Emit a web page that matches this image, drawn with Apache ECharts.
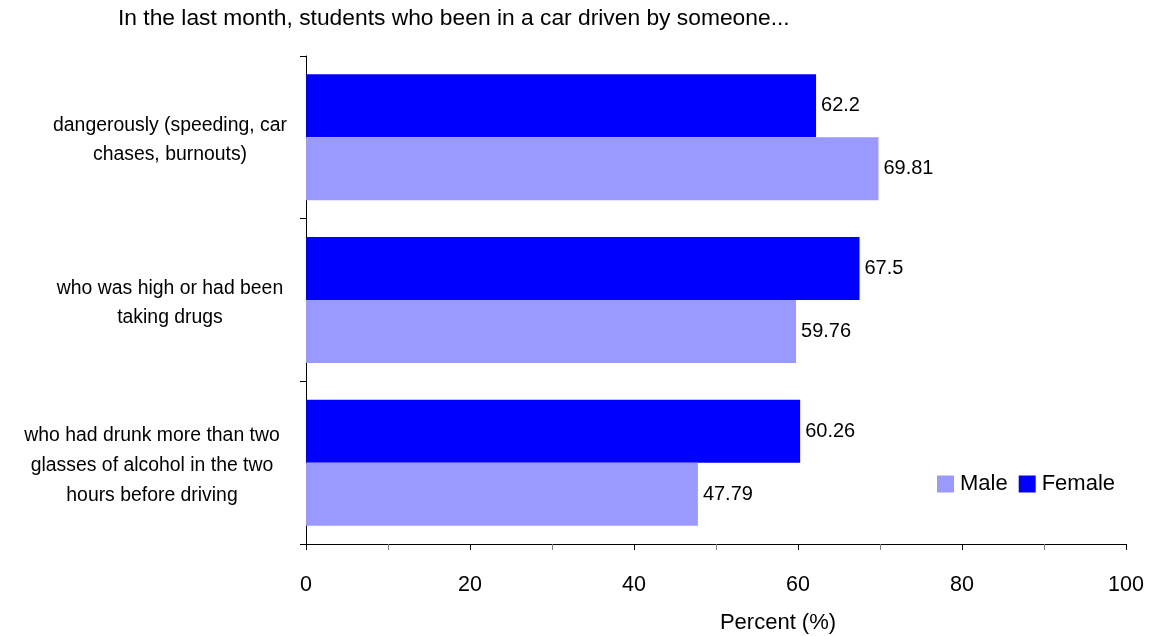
<!DOCTYPE html>
<html>
<head>
<meta charset="utf-8">
<script src="https://cdn.jsdelivr.net/npm/echarts@6/dist/echarts.min.js"></script>
<style>
html,body{margin:0;padding:0;background:#fff;}
#chart{width:1156px;height:636px;}
</style>
</head>
<body>
<div id="chart"></div>
<script>
var titleText = 'In the last month, students who been in a car driven by someone...';
var categories = [
  'dangerously (speeding, car\nchases, burnouts)',
  'who was high or had been\ntaking drugs',
  'who had drunk more than two\nglasses of alcohol in the two\nhours before driving'
];
var femaleValues = [62.2, 67.5, 60.26];
var maleValues = [69.81, 59.76, 47.79];
var xTicks = [0, 20, 40, 60, 80, 100];
var axisName = 'Percent (%)';

var FONT = "'Liberation Sans', Arial, sans-serif";
var chart = echarts.init(document.getElementById('chart'), null, {renderer: 'canvas'});

var labelStyle = {
  show: true, position: 'right', distance: 5,
  color: '#000', fontFamily: FONT, fontSize: 20
};

chart.setOption({
  animation: false,
  backgroundColor: '#fff',
  title: {
    text: titleText, left: 118, top: 7, padding: 0,
    textStyle: {fontFamily: FONT, fontSize: 22.8, fontWeight: 'normal', color: '#000'}
  },
  legend: {
    data: ['Male', 'Female'],
    left: 937, top: 473, padding: 0,
    itemWidth: 17, itemHeight: 17, itemGap: 11,
    icon: 'rect',
    textStyle: {fontFamily: FONT, fontSize: 22, color: '#000', padding: [0,0,0,1]}
  },
  grid: {left: 306, right: 30, top: 56, bottom: 92, containLabel: false, outerBoundsMode: 'none'},
  xAxis: {
    type: 'value', min: xTicks[0], max: xTicks[xTicks.length - 1], interval: 20,
    name: axisName, nameLocation: 'middle', nameGap: 68,
    nameTextStyle: {fontFamily: FONT, fontSize: 22, color: '#000', padding: [0, 0, 0, 124]},
    axisLine: {show: true, lineStyle: {color: '#000', width: 1}},
    axisTick: {show: true, length: 6, lineStyle: {color: '#000'}},
    minorTick: {show: true, splitNumber: 2, length: 6, lineStyle: {color: '#808080'}},
    splitLine: {show: false},
    axisLabel: {fontFamily: FONT, fontSize: 21.5, color: '#000', margin: 30}
  },
  yAxis: {
    type: 'category', data: categories, inverse: true,
    axisLine: {show: true, lineStyle: {color: '#000', width: 1}},
    axisTick: {show: true, length: 6, lineStyle: {color: '#000'}},
    splitLine: {show: false},
    axisLabel: {
      align: 'center', margin: 136, padding: [6, 0, 0, 0],
      formatter: function (value, index) {
        var st = index === 2 ? 'c2' : 'c';
        return value.split('\n').map(function (l) { return '{' + st + '|' + l + '}'; }).join('\n');
      },
      rich: {
        c: {fontFamily: FONT, fontSize: 19.4, lineHeight: 29, color: '#000'},
        c2: {fontFamily: FONT, fontSize: 19.4, lineHeight: 30, color: '#000', padding: [0, 36, 0, 0]}
      }
    }
  },
  series: [
    {
      name: 'Female', type: 'bar', data: femaleValues,
      itemStyle: {color: '#0000FF'},
      barGap: '0%', barCategoryGap: '22.5%',
      label: labelStyle
    },
    {
      name: 'Male', type: 'bar', data: maleValues,
      itemStyle: {color: '#9999FF'},
      barGap: '0%', barCategoryGap: '22.5%',
      label: labelStyle
    }
  ]
});
</script>
</body>
</html>
